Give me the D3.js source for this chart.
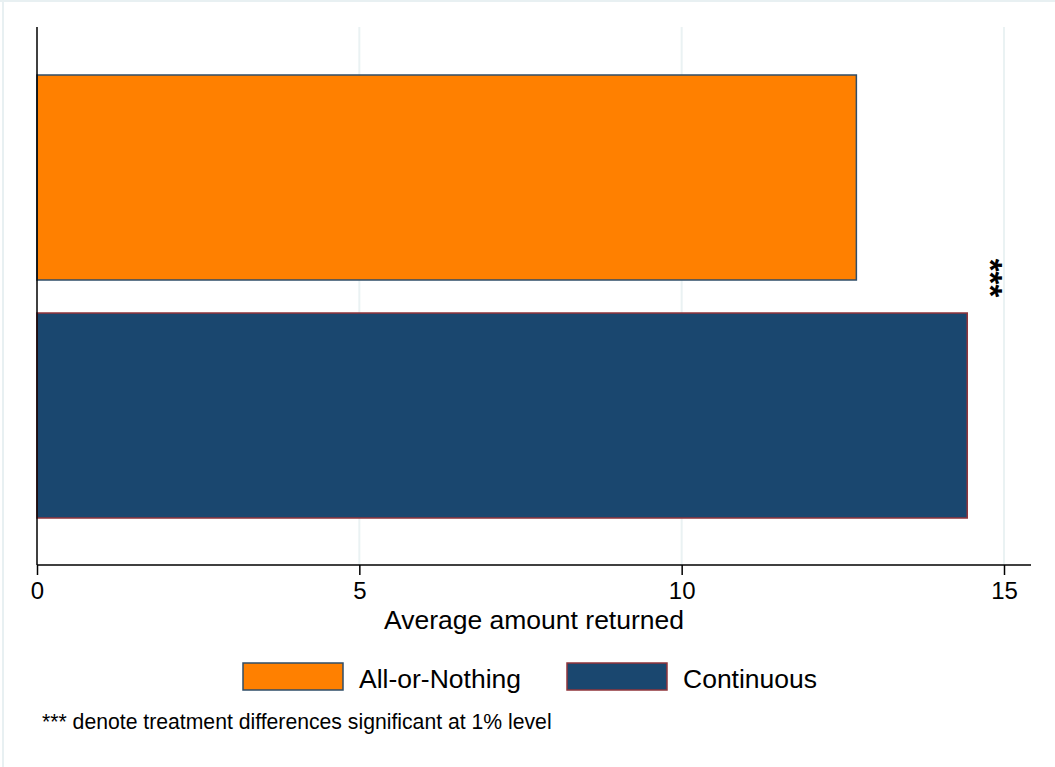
<!DOCTYPE html>
<html>
<head>
<meta charset="utf-8">
<script src="https://cdn.jsdelivr.net/npm/d3@7"></script>
<style>
  html, body { margin: 0; padding: 0; background: #fff; }
  svg { display: block; font-family: "Liberation Sans", Arial, Helvetica, sans-serif; }
</style>
</head>
<body>
<svg id="chart" width="1055" height="767"></svg>
<script>
const categories = ["All-or-Nothing", "Continuous"];
const values = [12.71, 14.43];
const fills = ["#ff8000", "#1a476f"];
const outlines = ["#2f4d68", "#90353b"];
const xTicks = [0, 5, 10, 15];
const xTitle = "Average amount returned";
const sigMark = "***";
const note = "*** denote treatment differences significant at 1% level";

const svg = d3.select("#chart");
const W = 1055, H = 767;
const plot = { left: 37, right: 1031, top: 27, bottom: 565 };

// outer frame (light)
svg.append("line").attr("x1", 0).attr("x2", W).attr("y1", 1).attr("y2", 1)
  .attr("stroke", "#e8f0f2").attr("stroke-width", 2);
svg.append("line").attr("x1", 3).attr("x2", 3).attr("y1", 0).attr("y2", H)
  .attr("stroke", "#e8f0f2").attr("stroke-width", 2);

const x = d3.scaleLinear().domain([0, 15]).range([37, 1004]);
const y = d3.scaleBand().domain(categories).range([75, 518])
  .paddingInner(33 / 238).paddingOuter(0);

// gridlines
svg.append("g").selectAll("line").data(xTicks.filter(d => d > 0)).join("line")
  .attr("x1", d => x(d)).attr("x2", d => x(d))
  .attr("y1", plot.top).attr("y2", plot.bottom)
  .attr("stroke", "#eaf2f3").attr("stroke-width", 2);

// bars
svg.append("g").selectAll("rect").data(categories).join("rect")
  .attr("x", x(0))
  .attr("y", d => y(d))
  .attr("width", (d, i) => x(values[i]) - x(0))
  .attr("height", y.bandwidth())
  .attr("fill", (d, i) => fills[i])
  .attr("stroke", (d, i) => outlines[i])
  .attr("stroke-width", 1.5);

// y axis line
svg.append("line").attr("x1", plot.left).attr("x2", plot.left)
  .attr("y1", plot.top).attr("y2", plot.bottom)
  .attr("stroke", "#000").attr("stroke-width", 1.5);

// x axis
const xAxis = d3.axisBottom(x).tickValues(xTicks).tickSize(10).tickPadding(7)
  .tickFormat(d3.format("d"));
const gx = svg.append("g").attr("transform", `translate(0,${plot.bottom})`).call(xAxis);
gx.select(".domain").attr("d", `M${plot.left},0H${plot.right}`)
  .attr("stroke", "#000").attr("stroke-width", 1.5);
gx.selectAll(".tick line").attr("stroke", "#000").attr("stroke-width", 1.5);
gx.selectAll(".tick text").attr("font-size", 24).attr("fill", "#000")
  .attr("font-family", "'Liberation Sans', Arial, sans-serif");

// x title
svg.append("text").attr("x", (plot.left + plot.right) / 2).attr("y", 629)
  .attr("text-anchor", "middle").attr("font-size", 26.5).attr("fill", "#000")
  .text(xTitle);

// significance stars (rotated)
svg.append("text")
  .attr("transform", `translate(${x(14.88)},278) rotate(90)`)
  .attr("text-anchor", "middle").attr("dy", "0.52em")
  .attr("font-weight", "bold")
  .attr("font-size", 33).attr("fill", "#000")
  .text(sigMark);

// legend
const legX = [243, 567];
const lg = svg.append("g").selectAll("g").data(categories).join("g")
  .attr("transform", (d, i) => `translate(${legX[i]},663)`);
lg.append("rect").attr("x", 0).attr("y", 0).attr("width", 100).attr("height", 27)
  .attr("fill", (d, i) => fills[i]).attr("stroke", (d, i) => outlines[i]).attr("stroke-width", 1.5);
lg.append("text").attr("x", 116).attr("y", 25).attr("font-size", 26.5).attr("fill", "#000")
  .text(d => d);

// note
svg.append("text").attr("x", 42).attr("y", 729).attr("font-size", 21.2).attr("fill", "#000")
  .text(note);
</script>
</body>
</html>
